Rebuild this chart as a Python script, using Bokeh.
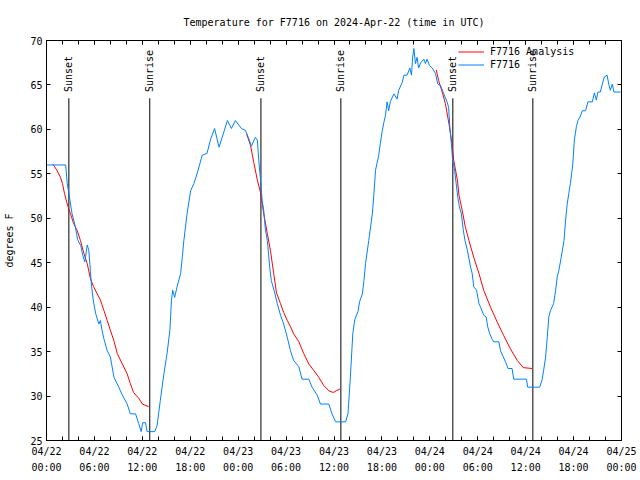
import math
from bokeh.plotting import figure
from bokeh.models import FixedTicker, LinearAxis, Range1d, Legend, LegendItem
from bokeh.core.properties import value
from bokeh.embed import file_html
from bokeh.resources import INLINE

FONT = "DejaVu Sans Mono"

# ---- data (hours since 2024-04-22 00:00 UTC) ----
obs_hours = [0.0, 2.4, 2.6, 2.8, 3.2, 3.6, 3.9, 4.3, 4.55, 4.8, 5.1, 5.3, 5.5, 5.65, 5.85, 6.15,
             6.55, 6.75, 6.95, 7.2, 7.6, 8.0, 8.45, 9.05, 9.5, 10.1, 10.5, 11.15, 11.55, 11.85,
             12.05, 12.4, 12.6, 13.55, 13.85, 14.25, 14.7, 15.1, 15.45, 15.65, 15.8, 16.05, 16.35,
             16.8, 17.0, 17.2, 17.6, 18.05, 18.45, 18.85, 19.5, 20.1, 20.55, 21.05, 21.6, 22.0,
             22.65, 23.15, 23.65, 24.4, 24.9, 25.35, 25.65, 26.15, 26.4, 26.6, 26.8, 27.0, 27.2,
             27.4, 27.65, 27.95, 28.15, 28.55, 28.9, 29.3, 29.7, 30.15, 30.55, 30.95, 31.6, 32.0,
             32.85, 33.25, 33.9, 34.3, 35.35, 35.75, 36.2, 37.45, 37.75, 38.05, 38.35, 38.6, 39.0,
             39.2, 39.55, 39.75, 39.95, 40.35, 40.8, 41.0, 41.2, 41.6, 41.8, 42.05, 42.25, 42.45,
             42.65, 42.85, 43.05, 43.5, 43.9, 44.1, 44.55, 44.75, 45.15, 45.5, 45.7, 45.85, 46.0,
             46.2, 46.4, 46.6, 46.85, 47.25, 47.45, 47.65, 47.95, 48.3, 48.7, 49.0, 49.35, 49.75,
             50.15, 50.35, 50.5, 50.7, 50.85, 51.1, 51.3, 51.5, 51.7, 51.95, 52.2, 52.4, 52.7,
             53.1, 53.3, 53.5, 53.85, 54.15, 54.35, 54.75, 55.05, 55.25, 55.5, 55.8, 56.0, 56.65,
             56.85, 57.2, 57.5, 57.8, 58.3, 58.5, 60.1, 60.25, 61.75, 62.05, 62.25, 62.5, 62.7,
             62.9, 63.1, 63.5, 63.75, 63.95, 64.15, 64.45, 64.8, 65.0, 65.2, 65.4, 65.6, 65.9,
             66.1, 66.35, 66.55, 66.8, 67.1, 67.5, 67.8, 68.35, 68.6, 68.85, 69.05, 69.35, 69.6,
             69.85, 70.2, 70.4, 70.6, 70.85, 71.05, 71.9]
obs_temp = [56.0, 56.0, 53.9, 52.8, 50.5, 49.1, 47.6, 46.9, 45.8, 45.1, 47.0, 46.4, 44.0, 42.3,
            40.8, 39.3, 38.1, 38.5, 37.4, 36.4, 35.1, 34.4, 32.1, 31.0, 30.1, 29.1, 28.0, 28.0,
            26.9, 26.0, 27.0, 27.0, 26.0, 26.0, 26.7, 29.5, 32.5, 34.8, 37.4, 40.8, 41.9, 41.1,
            42.3, 43.8, 45.6, 47.5, 50.5, 53.1, 53.9, 55.0, 57.1, 57.3, 58.9, 60.1, 58.0, 59.1,
            61.0, 60.1, 61.0, 60.1, 59.9, 58.9, 58.1, 59.1, 58.8, 56.3, 54.4, 52.0, 50.9, 48.8,
            47.5, 44.5, 43.0, 41.7, 40.4, 39.1, 38.1, 36.6, 35.1, 34.0, 33.3, 31.9, 31.9, 31.0,
            30.1, 29.1, 29.1, 28.0, 27.1, 27.1, 28.0, 32.1, 37.0, 38.6, 39.5, 40.6, 41.5, 43.0,
            44.9, 47.5, 50.5, 52.8, 55.4, 57.1, 58.4, 59.9, 60.8, 61.6, 63.1, 62.1, 63.1, 64.0,
            63.4, 64.4, 65.3, 66.1, 66.1, 66.9, 66.1, 68.1, 69.1, 67.4, 68.1, 66.9, 67.5, 67.9,
            67.4, 67.9, 67.2, 66.9, 66.3, 65.1, 64.9, 64.0, 63.1, 62.5, 60.3, 58.4, 56.5, 55.4,
            53.9, 52.4, 51.3, 50.5, 48.6, 47.5, 46.4, 44.5, 43.8, 42.3, 41.9, 40.4, 40.0, 39.1,
            38.9, 37.8, 37.0, 36.4, 36.1, 36.1, 35.1, 34.4, 33.8, 33.1, 33.1, 31.9, 31.9, 31.0,
            31.0, 31.8, 32.9, 34.4, 36.6, 38.9, 39.6, 40.4, 41.9, 43.4, 44.1, 45.6, 47.5, 49.8,
            51.6, 52.8, 53.9, 56.1, 58.8, 60.3, 61.0, 61.4, 62.1, 62.1, 63.1, 63.1, 64.1, 63.3,
            64.2, 64.2, 65.1, 65.9, 66.1, 65.1, 64.4, 65.1, 64.2, 64.2]

ana1_hours = [0.8, 1.3, 1.75, 2.0, 2.25, 2.6, 3.0, 3.4, 3.85, 4.25, 4.7, 5.1, 5.5, 5.9, 6.35,
              6.75, 7.2, 7.6, 8.0, 8.45, 8.85, 9.5, 10.1, 10.5, 10.9, 11.6, 12.0, 12.8]
ana1_temp = [56.1, 55.4, 54.6, 53.9, 52.8, 51.6, 50.5, 49.4, 48.6, 47.5, 46.0, 44.9, 43.2, 42.3,
             41.5, 40.8, 39.6, 38.5, 37.4, 36.2, 34.8, 33.6, 32.5, 31.4, 30.4, 29.7, 29.1, 28.8]
ana2_hours = [25.05, 25.55, 25.95, 26.4, 26.8, 27.2, 27.65, 28.05, 28.45, 28.8, 29.3, 29.7,
              30.15, 30.55, 30.95, 31.6, 32.2, 32.85, 33.45, 34.1, 34.7, 35.35, 35.9, 36.3, 36.75]
ana2_temp = [59.5, 58.2, 56.3, 54.3, 52.9, 50.5, 48.3, 46.3, 43.8, 41.6, 40.4, 39.4, 38.5, 37.8,
             37.0, 36.1, 34.8, 33.6, 32.9, 32.1, 31.2, 30.6, 30.4, 30.6, 30.8]
ana3_hours = [48.8, 49.1, 49.55, 49.95, 50.4, 50.7, 51.0, 51.45, 51.65, 52.05, 52.45, 52.9, 53.5,
              54.15, 54.75, 55.6, 56.45, 57.25, 58.1, 58.95, 59.7, 60.8]
ana3_temp = [66.7, 65.5, 64.2, 62.9, 60.6, 58.8, 56.5, 54.3, 52.6, 50.9, 49.0, 47.5, 45.6, 43.8,
             41.9, 40.0, 38.3, 36.8, 35.3, 34.0, 33.2, 33.1]

sunset_hours = [2.8, 26.85, 50.88]
sunrise_hours = [12.93, 36.86, 60.9]
marker_bottom = 25.0
marker_top = 63.5
marker_label_y = 64.2

tick_hours = [0, 6, 12, 18, 24, 30, 36, 42, 48, 54, 60, 66, 72]
tick_labels = ["04/22\n00:00", "04/22\n06:00", "04/22\n12:00", "04/22\n18:00",
               "04/23\n00:00", "04/23\n06:00", "04/23\n12:00", "04/23\n18:00",
               "04/24\n00:00", "04/24\n06:00", "04/24\n12:00", "04/24\n18:00",
               "04/25\n00:00"]
minor_hours = [0, 2, 4, 6, 8, 10, 12, 14, 16, 18, 20, 22, 24, 26, 28, 30, 32, 34, 36, 38, 40,
               42, 44, 46, 48, 50, 52, 54, 56, 58, 60, 62, 64, 66, 68, 70, 72]
y_ticks = [25, 30, 35, 40, 45, 50, 55, 60, 65, 70]

RED = "#ff0000"
BLUE = "#0080ff"

p = figure(width=640, height=480, output_backend="svg", toolbar_location=None,
           x_range=Range1d(0, 72), y_range=Range1d(25, 70),
           min_border_left=46, min_border_right=19, min_border_top=40, min_border_bottom=40,
           title="Temperature for F7716 on 2024-Apr-22 (time in UTC)")
p.title.text_font = FONT
p.title.text_font_size = "10px"
p.title.text_font_style = "normal"
p.title.align = "center"
p.title.text_color = "black"
p.title.standoff = 26

p.xgrid.visible = False
p.ygrid.visible = False
p.outline_line_color = "black"
p.outline_line_alpha = 1.0
p.background_fill_color = "white"
p.border_fill_color = "white"

xt = FixedTicker(ticks=tick_hours, minor_ticks=minor_hours)
yt = FixedTicker(ticks=y_ticks, minor_ticks=[])


def style_axis(ax):
    ax.axis_line_color = "black"
    ax.major_tick_line_color = "black"
    ax.minor_tick_line_color = "black"
    ax.major_tick_in = 4
    ax.major_tick_out = 0
    ax.minor_tick_in = 4
    ax.minor_tick_out = 0
    ax.major_label_text_font = FONT
    ax.major_label_text_font_size = "10px"
    ax.major_label_text_color = "black"


xa = p.xaxis[0]
xa.ticker = xt
xa.major_label_overrides = {h: lab for h, lab in zip(tick_hours, tick_labels)}
style_axis(xa)
xa.major_label_standoff = 5
xa.major_label_text_line_height = 1.5

ya = p.yaxis[0]
ya.ticker = yt
style_axis(ya)
ya.major_label_standoff = 4
ya.axis_label = "degrees F"
ya.axis_label_text_font = FONT
ya.axis_label_text_font_size = "10px"
ya.axis_label_text_font_style = "normal"
ya.axis_label_text_color = "black"
ya.axis_label_standoff = 12

top = LinearAxis(ticker=xt)
style_axis(top)
top.major_label_text_color = None
top.major_label_text_font_size = "1px"
top.major_label_standoff = 0
p.add_layout(top, "above")

right = LinearAxis(ticker=yt)
style_axis(right)
right.major_label_text_color = None
right.major_label_text_font_size = "1px"
right.major_label_standoff = 0
p.add_layout(right, "right")

# sunrise / sunset markers
mark_x = sunset_hours + sunrise_hours
p.segment(x0=mark_x, y0=[marker_bottom] * len(mark_x), x1=mark_x, y1=[marker_top] * len(mark_x),
          line_color="black", line_width=1)
p.text(x=mark_x, y=[marker_label_y] * len(mark_x),
       text=["Sunset"] * len(sunset_hours) + ["Sunrise"] * len(sunrise_hours),
       angle=math.pi / 2, text_font=value(FONT), text_font_size="10px",
       text_align="left", text_baseline="middle", text_color="black")

r_red = p.multi_line(xs=[ana1_hours, ana2_hours, ana3_hours], ys=[ana1_temp, ana2_temp, ana3_temp],
                     line_color=RED, line_width=1)
r_blue = p.line(obs_hours, obs_temp, line_color=BLUE, line_width=1)

legend = Legend(items=[LegendItem(label="F7716 Analysis", renderers=[r_red]),
                       LegendItem(label="F7716", renderers=[r_blue])],
                location=(412, 370))
legend.label_text_font = FONT
legend.label_text_font_size = "10px"
legend.label_text_color = "black"
legend.glyph_width = 26
legend.glyph_height = 11
legend.label_height = 11
legend.spacing = 2
legend.padding = 3
legend.margin = 0
legend.label_standoff = 6
legend.border_line_color = None
legend.background_fill_alpha = 0
p.add_layout(legend)

open("out.html", "w").write(file_html(p, INLINE))
